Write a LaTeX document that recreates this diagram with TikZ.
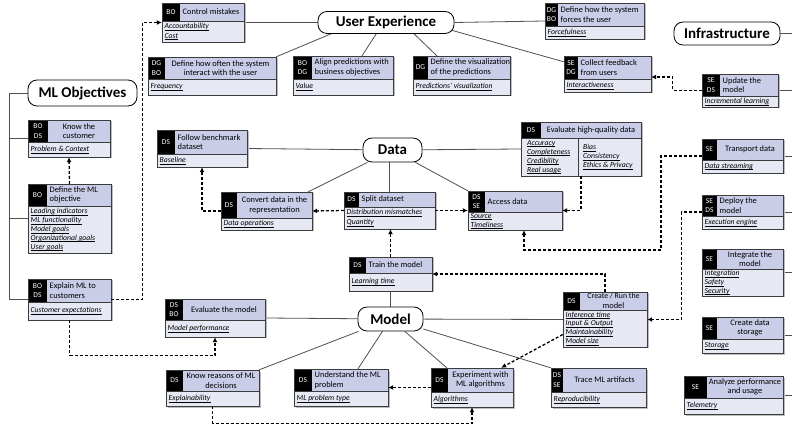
\documentclass[tikz,border=0pt]{standalone}
\usepackage{fontspec}
\setmainfont{Carlito}
\usetikzlibrary{arrows.meta,fit,calc}
\pgfdeclarelayer{background}
\pgfsetlayers{background,main}
\definecolor{headc}{HTML}{C9CDE8}
\definecolor{bodyc}{HTML}{E6E8F3}
\definecolor{linec}{HTML}{3C3C3C}
\definecolor{shadc}{HTML}{BDBDBD}
\definecolor{connc}{HTML}{505050}
\tikzset{
 boxshadow/.style={fill=shadc},
 headfill/.style={fill=headc},
 bodyfill/.style={fill=bodyc},
 boxline/.style={draw=linec, line width=0.7pt},
 tagtext/.style={text=white, font=\fontsize{7.5}{9.5}\selectfont, align=center, inner sep=0pt},
 titletext/.style={text=black, font=\fontsize{8.4}{9.6}\selectfont, inner sep=0pt},
 bodytext/.style={font=\fontsize{7.7}{8.9}\selectfont, align=left, inner sep=0pt, anchor=west},
 hub/.style={draw=black, line width=0.8pt, rounded corners=9pt, fill=white, font=\fontsize{15}{17}\selectfont\bfseries, inner sep=0pt},
 link/.style={draw=connc, line width=0.8pt},
 flow/.style={draw=black, line width=1.3pt, dash pattern=on 3pt off 2pt, -{Latex[length=5pt,width=5pt]}}
}
\newcommand\itm[1]{\setbox0\hbox{\textit{#1}}\rlap{\rule[-1.5pt]{\wd0}{0.4pt}}\box0}
% #1 name, #2 x1, #3 y1, #4 x2, #5 y2, #6 header bottom, #7 tag right, #8 tags
\newcommand\ibox[8]{%
  \fill[boxshadow] (#2+1.5,#3+1.5) rectangle (#4+1.5,#5+1.5);
  \fill[headfill] (#2,#3) rectangle (#4,#6);
  \fill[bodyfill] (#2,#6) rectangle (#4,#5);
  \fill[black] (#2,#3) rectangle (#7,#6);
  \draw[boxline] (#2,#6) -- (#4,#6);
  \draw[boxline] (#2,#3) rectangle (#4,#5);
  \node[tagtext] at ({(#2+#7)/2},{(#3+#6)/2}) {#8};
  \node[inner sep=0pt, fit={(#2,#3) (#4,#5)}] (#1) {};
  \coordinate (#1-hw) at (#7+2.5,{(#3+#6)/2});
  \coordinate (#1-hc) at ({(#7+#4)/2},{(#3+#6)/2});
  \coordinate (#1-b) at (#2+2.5,{(#6+#5)/2});
}
\newcommand\ttl[2]{\node[titletext, anchor=west, align=left] at (#1-hw) {#2};}
\newcommand\ttc[2]{\node[titletext, align=center] at (#1-hc) {#2};}
\newcommand\ibody[2]{\node[bodytext] at (#1-b) {#2};}
\begin{document}
\begin{tikzpicture}[x=1pt,y=-1pt]
\begin{pgfonlayer}{background}
\fill[white] (0,0) rectangle (792,427);
\end{pgfonlayer}
\useasboundingbox (0,0) rectangle (792,427);

% ---------- User experience boxes
\ibox{cm}{162}{3}{244}{42}{21}{180}{BO}
\ttl{cm}{Control mistakes}
\ibody{cm}{\itm{Accountability}\\[1pt]\itm{Cost}}

\ibox{fo}{148}{57}{276}{95}{79}{165}{DG\\BO}
\ttc{fo}{Define how often the system\\interact with the user}
\ibody{fo}{\itm{Frequency}}

\ibox{al}{293}{56}{393}{95}{79}{312}{BO\\DG}
\ttl{al}{Align predictions with\\business objectives}
\ibody{al}{\itm{Value}}

\ibox{vi}{413}{56}{510}{95}{79}{428}{DG}
\ttl{vi}{Define the visualization\\of the predictions}
\ibody{vi}{\itm{Predictions' visualization}}

\ibox{fc}{545}{3}{644}{39}{26}{558}{DG\\BO}
\ttl{fc}{Define how the system\\forces the user}
\ibody{fc}{\itm{Forcefulness}}

\ibox{cf}{564}{56}{651}{92}{79}{578}{SE\\DG}
\ttl{cf}{Collect feedback\\from users}
\ibody{cf}{\itm{Interactiveness}}

% ---------- Infrastructure boxes
\ibox{up}{702}{74}{778}{107}{96}{720}{SE\\DS}
\ttl{up}{Update the\\model}
\ibody{up}{\itm{Incremental learning}}

\ibox{tr}{702}{139}{783}{173}{160}{717}{SE}
\ttc{tr}{Transport data}
\ibody{tr}{\itm{Data streaming}}

\ibox{de}{702}{195}{783}{229}{216}{717}{SE\\DS}
\ttl{de}{Deploy the\\model}
\ibody{de}{\itm{Execution engine}}

\ibox{ig}{702}{249}{783}{296}{269}{717}{SE}
\ttc{ig}{Integrate the\\model}
\ibody{ig}{\itm{Integration}\\\itm{Safety}\\\itm{Security}}

\ibox{st}{702}{317}{783}{353}{339}{717}{SE}
\ttc{st}{Create data\\storage}
\ibody{st}{\itm{Storage}}

\ibox{an}{684}{376}{783}{414}{398}{707}{SE}
\ttc{an}{Analyze performance\\and usage}
\ibody{an}{\itm{Telemetry}}

% ---------- Data boxes
\ibox{fb}{157}{130}{247}{167}{154}{175}{DS}
\ttl{fb}{Follow benchmark\\dataset}
\ibody{fb}{\itm{Baseline}}

\ibox{cv}{221}{192}{312}{230}{218}{237}{DS}
\ttc{cv}{Convert data in the\\representation}
\ibody{cv}{\itm{Data operations}}

\ibox{sp}{344}{192}{435}{229}{207}{359}{DS}
\ttl{sp}{Split dataset}
\ibody{sp}{\itm{Distribution mismatches}\\[1pt]\itm{Quantity}}

\ibox{ac}{468}{191}{562}{230}{212}{485}{DS\\SE}
\ttl{ac}{Access data}
\ibody{ac}{\itm{Source}\\\itm{Timeliness}}

\ibox{eq}{521}{122}{641}{176}{138}{541}{DS}
\ttc{eq}{Evaluate high-quality data}
\draw[boxline] (578,138) -- (578,176);
\node[bodytext] (eqa) at (527,157) {\itm{Accuracy}\\\itm{Completeness}\\\itm{Credibility}\\\itm{Real usage}};
\node[bodytext] (eqb) at (583,157) {\itm{Bias}\\\itm{Consistency}\\\itm{Ethics \& Privacy}};

% ---------- Model boxes
\ibox{trn}{349}{257}{432}{291}{273}{366}{DS}
\ttl{trn}{Train the model}
\ibody{trn}{\itm{Learning time}}

\ibox{ev}{165}{299}{265}{337}{320}{183}{DS\\BO}
\ttc{ev}{Evaluate the model}
\ibody{ev}{\itm{Model performance}}

\ibox{kr}{166}{370}{259}{406}{391}{183}{DS}
\ttc{kr}{Know reasons of ML\\decisions}
\ibody{kr}{\itm{Explainability}}

\ibox{un}{294}{369}{388}{406}{391}{312}{DS}
\ttl{un}{Understand the ML\\problem}
\ibody{un}{\itm{ML problem type}}

\ibox{ex}{431}{368}{513}{407}{392}{448}{DS}
\ttc{ex}{Experiment with\\ML algorithms}
\ibody{ex}{\itm{Algorithms}}

\ibox{tm}{551}{368}{646}{407}{392}{563}{DS\\SE}
\ttc{tm}{Trace ML artifacts}
\ibody{tm}{\itm{Reproducibility}}

\ibox{cr}{563}{292}{647}{347}{310}{580}{DS}
\ttc{cr}{\fontsize{7.8}{8.5}\selectfont Create / Run the\\model}
\ibody{cr}{\itm{Inference time}\\\itm{Input \& Output}\\\itm{Maintainability}\\\itm{Model size}}

% ---------- ML objectives boxes
\ibox{kc}{28}{120}{110}{157}{142}{48}{BO\\DS}
\ttc{kc}{Know the\\customer}
\ibody{kc}{\itm{Problem \& Context}}

\ibox{dm}{28}{184}{111}{253}{206}{47}{BO}
\ttl{dm}{Define the ML\\objective}
\ibody{dm}{\itm{Leading indicators}\\\itm{ML functionality}\\\itm{Model goals}\\\itm{Organizational goals}\\\itm{User goals}}

\ibox{eml}{28}{279}{111}{320}{302}{47}{BO\\DS}
\ttl{eml}{Explain ML to\\customers}
\ibody{eml}{\itm{Customer expectations}}

% ---------- hubs
\node[hub, minimum width=109pt, minimum height=26pt] (mlo) at (82.5,93) {ML Objectives};
\node[hub, minimum width=136pt, minimum height=22pt] (ux) at (386,22.5) {User Experience};
\node[hub, minimum width=59pt, minimum height=24pt] (da) at (392.5,150) {Data};
\node[hub, minimum width=65pt, minimum height=24pt] (mo) at (390.5,319) {Model};
\node[hub, minimum width=106pt, minimum height=23pt] (inf) at (727,33.5) {Infrastructure};

\coordinate (mlrail) at (9,93);
\coordinate (redge) at (792,0);
\coordinate (uxa) at (345,28);
\coordinate (uxb) at (380,28);
\coordinate (uxc) at (408,28);
\coordinate (uxd) at (440,27);

% ---------- solid links
\begin{pgfonlayer}{background}
\draw[link] (mlo.west) -- (mlrail) |- (eml.west);
\draw[link] (kc.west) -- (kc.west -| mlrail);
\draw[link] (dm.west) -- (dm.west -| mlrail);

\draw[link] (cm.east) -- (ux.west);
\draw[link] (ux.east) -- (fc.west);
\draw[link] (fo.north east) -- (uxa);
\draw[link] ([xshift=19pt]al.north) -- (uxb);
\draw[link] ([xshift=24pt]vi.north west) -- (uxc);
\draw[link] ([yshift=-6pt]cf.north west) -- (uxd);

\draw[link] (fb.east) -- (da);
\draw[link] ([xshift=-4pt]cv.north east) -- (da);
\draw[link] (sp.north) -- (sp.north |- da);
\draw[link] (ac.north west) -- (da);
\draw[link] (eq.west) -- (da);

\draw[link] (trn.south) -- (mo);
\draw[link] (ev.east) -- (mo);
\draw[link] (kr.north east) -- (mo);
\draw[link] ([xshift=17pt]un.north) -- (mo);
\draw[link] ([xshift=16pt]ex.north west) -- (mo);
\draw[link] (tm.north west) -- (mo);
\draw[link] (cr.west) -- (mo);

\draw[link] (inf.east) -- (inf.east -| redge);
\draw[link] (up.east) -- (up.east -| redge);
\draw[link] (tr.east) -- (tr.east -| redge);
\draw[link] (de.east) -- (de.east -| redge);
\draw[link] (ig.east) -- (ig.east -| redge);
\draw[link] (st.east) -- (st.east -| redge);
\draw[link] (an.east) -- (an.east -| redge);
\end{pgfonlayer}

% ---------- dashed flows
\draw[flow] (dm.north) -- (kc.south);
\draw[flow] (eml.east) -| ([xshift=-19pt]cm.west) -- (cm.west);
\draw[flow] (eml.south) |- ([yshift=-18pt]ev.south) -- (ev.south);
\draw[flow] (cv.west) -| (fb.south);
\draw[flow] (sp.west) -- (cv.east);
\draw[flow] (sp.east) -- (ac.west);
\draw[flow] (eq.south) |- (ac.east);
\draw[flow] (trn.north) -- (trn.north |- sp.south);
\coordinate (tc) at (661,250);
\draw[flow] (tr.west) -| (tc) -| ([xshift=9pt]ac.south);
\draw[flow] (de.west) -- ++(-20,0) |- (cr.east);
\draw[flow] (cr.north) |- (trn.east);
\draw[flow] ([yshift=-15pt]cr.west) -- ([xshift=-12pt]ex.north east);
\draw[flow] (ex.west) -- (un.east);
\draw[flow] (kr.south) |- ([yshift=-16pt]ex.south) -- (ex.south);
\draw[flow] (up.west) -- ++(-29,0) |- ([yshift=-3pt]cf.east);
\end{tikzpicture}
\end{document}
